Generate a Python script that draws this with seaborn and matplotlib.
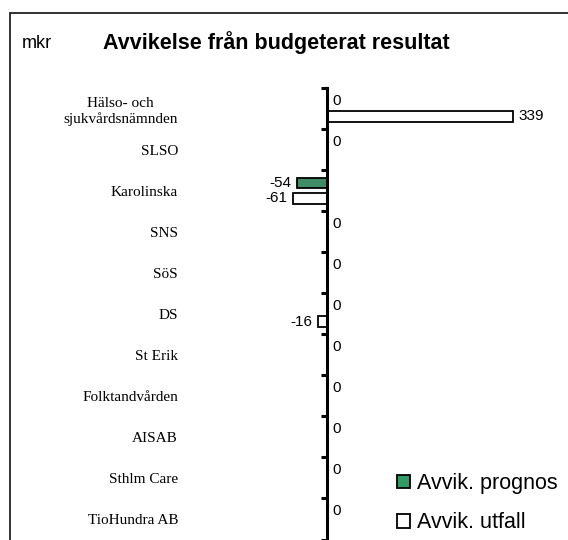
import numpy as np
import pandas as pd
import matplotlib
matplotlib.use("Agg")
import matplotlib.pyplot as plt
from matplotlib.patches import Patch, Rectangle
import seaborn as sns

categories = ["Hälso- och\nsjukvårdsnämnden", "SLSO", "Karolinska", "SNS", "SöS", "DS",
              "St Erik", "Folktandvården", "AISAB", "Sthlm Care", "TioHundra AB"]
prognos = [0, 0, -54, 0, 0, 0, 0, 0, 0, 0, 0]
utfall = [339, np.nan, -61, np.nan, np.nan, -16, np.nan, np.nan, np.nan, np.nan, np.nan]
series = ["Avvik. prognos", "Avvik. utfall"]
colors = ["#339966", "#ffffff"]

df = pd.DataFrame({
    "Enhet": categories * 2,
    "Värde": prognos + utfall,
    "Serie": [series[0]] * len(categories) + [series[1]] * len(categories),
})

sns.set_theme(style="white")
plt.rcParams["font.family"] = ["Liberation Sans", "DejaVu Sans"]
plt.rcParams["text.color"] = "black"
plt.rcParams["ytick.color"] = "black"
plt.rcParams["ytick.labelcolor"] = "black"

W, H = 568, 540
fig = plt.figure(figsize=(W / 100, H / 100), dpi=100)

# axes placement in pixels
ax_left, ax_right = 190, 568
ax_top, ax_bottom = 88, 539.5
ax = fig.add_axes([ax_left / W, 1 - ax_bottom / H, (ax_right - ax_left) / W, (ax_bottom - ax_top) / H])

sns.barplot(data=df, y="Enhet", x="Värde", hue="Serie", order=categories,
            hue_order=series, palette=colors, orient="h", width=0.76, gap=0.33,
            edgecolor="black", linewidth=1.3, dodge=True, ax=ax, legend=False)

zero_px = 326.5
scale = 0.549  # px per unit
ax.set_xlim((ax_left - zero_px) / scale, (ax_right - zero_px) / scale)
ax.set_ylim(len(categories) - 0.5, -0.5)

for c in ax.containers:
    ax.bar_label(c, fmt="%g", padding=4, fontsize=11, color="black")

for s in ["top", "right", "bottom"]:
    ax.spines[s].set_visible(False)
ax.spines["left"].set_position(("data", 0))
ax.spines["left"].set_linewidth(2.2)
ax.spines["left"].set_color("black")
ax.set_xticks([])
ax.set_xlabel("")
ax.set_ylabel("")

ax.set_yticks(range(len(categories)))
ax.set_yticklabels(categories, fontfamily="Liberation Serif", fontsize=11,
                   multialignment="center", color="black")
ax.tick_params(axis="y", which="major", left=True, length=0, pad=(zero_px - 178) * 0.72)
ax.set_yticks(np.arange(-0.5, len(categories), 1.0), minor=True)
ax.tick_params(axis="y", which="minor", left=True, length=4.5, width=2.2,
               direction="out", color="black")
ax.patch.set_alpha(0)

handles = [Patch(facecolor=colors[0], edgecolor="black", linewidth=1.3, label=series[0]),
           Patch(facecolor=colors[1], edgecolor="black", linewidth=1.3, label=series[1])]
fig.legend(handles=handles, loc="upper left", bbox_to_anchor=(397 / W, 1 - 473 / H),
           frameon=False, fontsize=15.5, handlelength=0.6, handleheight=0.6,
           handletextpad=0.35, labelspacing=0.85, borderaxespad=0, borderpad=0)

fig.text(22 / W, 1 - 44 / H, "mkr", fontsize=13, va="center", ha="left", color="black")
fig.text(103 / W, 1 - 43 / H, "Avvikelse från budgeterat resultat", fontsize=15.5,
         fontweight="bold", va="center", ha="left", color="black")

fig.patches.append(Rectangle((10 / W, -0.1), 1.2, 1 - 13 / H + 0.1, transform=fig.transFigure,
                             fill=False, edgecolor="#222222", linewidth=1.3))

fig.savefig("out.png", dpi=100, facecolor="white")
